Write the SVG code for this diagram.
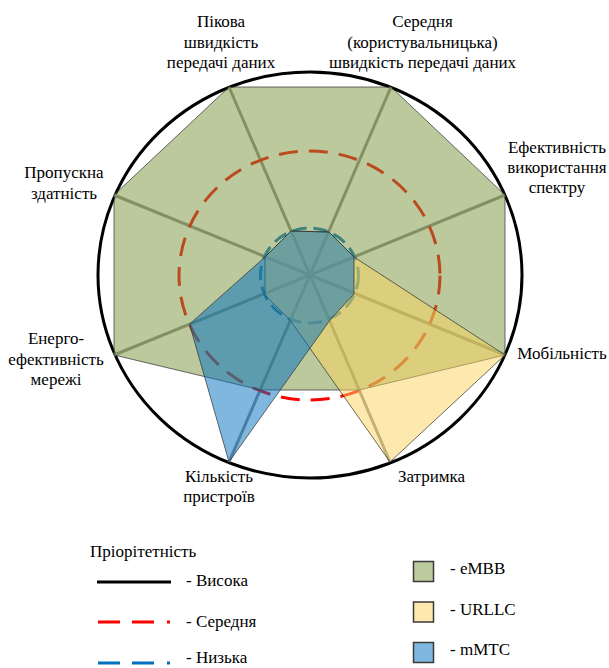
<svg xmlns="http://www.w3.org/2000/svg" width="609" height="668" viewBox="0 0 609 668" font-family="'Liberation Serif', 'Noto Serif', 'DejaVu Serif', FreeSerif, Tinos, 'Nimbus Roman', 'Times New Roman', Times, serif" font-size="17">
<style>
  .mid { text-anchor: middle; }
  .axis { stroke: #8c8c8c; stroke-width: 3; fill: none; }
  .poly { stroke: #2e2e2e; stroke-width: 1; stroke-opacity: 0.7; }
  .embb { fill: #77933c; fill-opacity: 0.5; }
  .urllc { fill: #fbd35d; fill-opacity: 0.5; }
  .mmtc { fill: #0070c0; fill-opacity: 0.5; }
  .high { stroke: #000; stroke-width: 3; fill: none; }
  .medium { stroke: #ff0000; stroke-width: 3; fill: none; stroke-dasharray: 19 11; }
  .low { stroke: #0070c0; stroke-width: 3; fill: none; stroke-dasharray: 14 7; }
  .sw { stroke: #3a3a3a; stroke-width: 1.5; }
</style>

<g id="chart">
  <ellipse id="circle-high" class="high" cx="310" cy="275" rx="212" ry="203"/>
  <g id="axes">
    <line class="axis" x1="310" y1="275" x2="229" y2="87"/>
    <line class="axis" x1="310" y1="275" x2="391" y2="87"/>
    <line class="axis" x1="310" y1="275" x2="505" y2="195"/>
    <line class="axis" x1="310" y1="275" x2="505" y2="355"/>
    <line class="axis" x1="310" y1="275" x2="390" y2="462"/>
    <line class="axis" x1="310" y1="275" x2="229" y2="462"/>
    <line class="axis" x1="310" y1="275" x2="114" y2="355"/>
    <line class="axis" x1="310" y1="275" x2="114" y2="195"/>
  </g>
  <ellipse id="circle-medium" class="medium" cx="309.5" cy="275.5" rx="130.5" ry="124.5"/>
  <ellipse id="circle-low" class="low" cx="309.5" cy="275.5" rx="49" ry="47.5"/>
  <polygon id="eMBB" class="poly embb" points="229,87 391,87 505,195 505,355 359.2,390 260.8,390 114,355 114,195"/>
  <polygon id="URLLC" class="poly urllc" points="291,231 329,232 354,257 505,355 390,462 290,320 265,295 265,257"/>
  <polygon id="mMTC" class="poly mmtc" points="291,231 329,232 354,257 354,294 330,320 229,462 189.5,324.2 265,257"/>
</g>

<g id="labels">
  <g id="label-peak">
    <text class="mid" x="221" y="27">Пікова</text>
    <text class="mid" x="221" y="47.5">швидкість</text>
    <text class="mid" x="221" y="68">передачі даних</text>
  </g>
  <g id="label-average">
    <text class="mid" x="422.5" y="27">Середня</text>
    <text class="mid" x="422.5" y="47.5">(користувальницька)</text>
    <text class="mid" x="422.5" y="68">швидкість передачі даних</text>
  </g>
  <g id="label-spectrum">
    <text class="mid" x="557" y="153">Ефективність</text>
    <text class="mid" x="557" y="173">використання</text>
    <text class="mid" x="557" y="193">спектру</text>
  </g>
  <g id="label-mobility">
    <text class="mid" x="562" y="359">Мобільність</text>
  </g>
  <g id="label-latency">
    <text class="mid" x="431.5" y="482">Затримка</text>
  </g>
  <g id="label-devices">
    <text class="mid" x="219" y="482">Кількість</text>
    <text class="mid" x="219" y="502">пристроїв</text>
  </g>
  <g id="label-energy">
    <text class="mid" x="56" y="344">Енерго-</text>
    <text class="mid" x="56" y="365">ефективність</text>
    <text class="mid" x="56" y="385">мережі</text>
  </g>
  <g id="label-capacity">
    <text class="mid" x="64" y="178">Пропускна</text>
    <text class="mid" x="64" y="198.5">здатність</text>
  </g>
</g>

<g id="legend-priority">
  <text x="90" y="557">Пріорітетність</text>
  <line class="high" x1="97" y1="582" x2="171" y2="582" stroke-width="2.5"/>
  <text x="186" y="586">- Висока</text>
  <line x1="98" y1="622" x2="171" y2="622" stroke="#ff0000" stroke-width="3" stroke-dasharray="22 12 22 13 3 30"/>
  <text x="186" y="627">- Середня</text>
  <line x1="98" y1="663" x2="171" y2="663" stroke="#0070c0" stroke-width="3" stroke-dasharray="22 12 22 13 3 30"/>
  <text x="186" y="663">- Низька</text>
</g>

<g id="legend-services">
  <rect class="sw" x="413.5" y="561.5" width="20" height="20" fill="#bccb9d"/>
  <text x="450" y="574">- eMBB</text>
  <rect class="sw" x="413.5" y="602" width="20" height="20" fill="#fde9ae"/>
  <text x="450" y="615">- URLLC</text>
  <rect class="sw" x="413.5" y="642.5" width="20" height="20" fill="#80b7e0"/>
  <text x="450" y="655">- mMTC</text>
</g>
</svg>
